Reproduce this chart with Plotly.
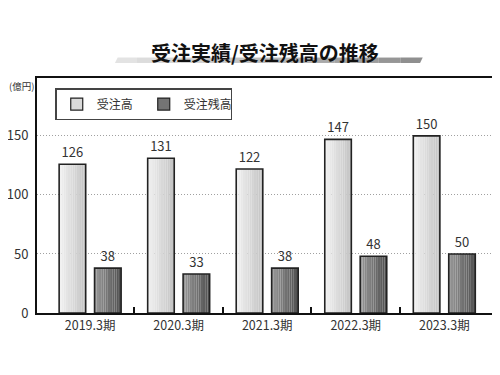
import plotly.graph_objects as go

categories = ["2019.3期", "2020.3期", "2021.3期", "2022.3期", "2023.3期"]
orders = [126, 131, 122, 147, 150]        # 受注高
backlog = [38, 33, 38, 48, 50]            # 受注残高
series_names = ["受注高", "受注残高"]
y_ticks = [0, 50, 100, 150]
unit_label = "(億円)"
title_text = "受注実績/受注残高の推移"

FONT = "Noto Sans CJK JP"
TXT = "#333333"

def lerp_hex(c1, c2, t):
    a = [int(c1[i:i + 2], 16) for i in (1, 3, 5)]
    b = [int(c2[i:i + 2], 16) for i in (1, 3, 5)]
    return "#" + "".join(f"{round(a[k] + (b[k] - a[k]) * t):02x}" for k in range(3))

fig = go.Figure()

BW = 0.30
specs = [
    (orders, series_names[0], -0.35, "#f2f2f2", "#c2c2c2"),
    (backlog, series_names[1], 0.05, "#9a9a9a", "#4e4e4e"),
]
N = 12
for vals, name, off, c_left, c_right in specs:
    for i in range(N):
        fig.add_trace(go.Bar(
            x=categories, y=vals, width=BW / N, offset=off + i * BW / N,
            marker=dict(color=lerp_hex(c_left, c_right, (i + 0.5) / N), line=dict(width=0)),
            showlegend=False, hoverinfo="skip",
        ))
    fig.add_trace(go.Bar(
        x=categories, y=vals, width=BW, offset=off, name=name,
        marker=dict(color="rgba(0,0,0,0)", line=dict(color="#222222", width=1.6)),
        text=[str(v) for v in vals], textposition="outside",
        textfont=dict(size=13, color=TXT, family=FONT),
        cliponaxis=False, showlegend=False,
    ))
    fig.add_trace(go.Bar(
        x=[None], y=[None], name=name,
        marker=dict(color=lerp_hex(c_left, c_right, 0.5), line=dict(color="#222222", width=1.2)),
    ))

fig.add_trace(go.Scatter(x=[None], y=[None], xaxis="x2", showlegend=False, hoverinfo="skip"))

xr = [-0.6, 4.55]
fig.update_layout(
    width=492, height=367,
    margin=dict(l=29, r=7, t=70, b=62, autoexpand=False),
    paper_bgcolor="white", plot_bgcolor="white",
    barmode="overlay",
    font=dict(family=FONT, color=TXT),
    showlegend=True,
    legend=dict(
        orientation="h", x=0.04, y=0.957, xanchor="left", yanchor="top",
        bordercolor="#444444", borderwidth=1.5, bgcolor="white",
        font=dict(size=12, color=TXT, family=FONT),
        itemwidth=30, entrywidth=42, tracegroupgap=0,
    ),
    xaxis=dict(
        range=xr, showgrid=False, ticks="", zeroline=False, automargin=False,
        showline=True, linecolor="#111111", linewidth=2, mirror=True,
        tickfont=dict(size=12.5, color=TXT, family=FONT),
    ),
    xaxis2=dict(
        overlaying="x", range=xr, side="bottom", showgrid=False, showticklabels=False,
        tickvals=[0.5, 1.5, 2.5, 3.5], ticks="inside", ticklen=6, tickwidth=2,
        tickcolor="#111111", zeroline=False, showline=False, automargin=False,
    ),
    yaxis=dict(
        range=[0, 199], tickvals=y_ticks, showgrid=True, gridcolor="#a0a0a0",
        griddash="1px,2px", gridwidth=1, zeroline=False, ticks="", automargin=False,
        showline=True, linecolor="#111111", linewidth=2, mirror=True,
        tickfont=dict(size=13, color=TXT, family=FONT), ticklabelstandoff=4,
    ),
    annotations=[
        dict(text=title_text, xref="paper", yref="paper", x=0.5, y=1.11,
             xanchor="center", yanchor="middle", showarrow=False,
             font=dict(size=20, color="#111111", family=FONT, weight="bold")),
        dict(text=unit_label, xref="paper", yref="paper", x=-0.0636, y=0.965,
             xanchor="left", yanchor="middle", showarrow=False, borderpad=0,
             font=dict(size=9.5, color=TXT, family=FONT)),
    ],
)

x0, x1 = 0.171, 0.846
ya, yb = 1.064, 1.087
M = 14
shapes = []
slant = 0.006
for i in range(M):
    sx0 = x0 + (x1 - x0) * i / M
    sx1 = x0 + (x1 - x0) * (i + 1) / M
    col = lerp_hex("#e6e6e6", "#8c8c8c", (i + 0.5) / M)
    if i == 0:
        path = f"M {sx0},{ya} L {sx1},{ya} L {sx1},{yb} L {sx0 + slant},{yb} Z"
    elif i == M - 1:
        path = f"M {sx0},{ya} L {sx1 - slant},{ya} L {sx1},{yb} L {sx0},{yb} Z"
    else:
        path = f"M {sx0},{ya} L {sx1},{ya} L {sx1},{yb} L {sx0},{yb} Z"
    shapes.append(dict(type="path", xref="paper", yref="paper", path=path,
                       fillcolor=col, line=dict(width=0), layer="below"))
fig.update_layout(shapes=shapes)

fig.write_html("out.html")
